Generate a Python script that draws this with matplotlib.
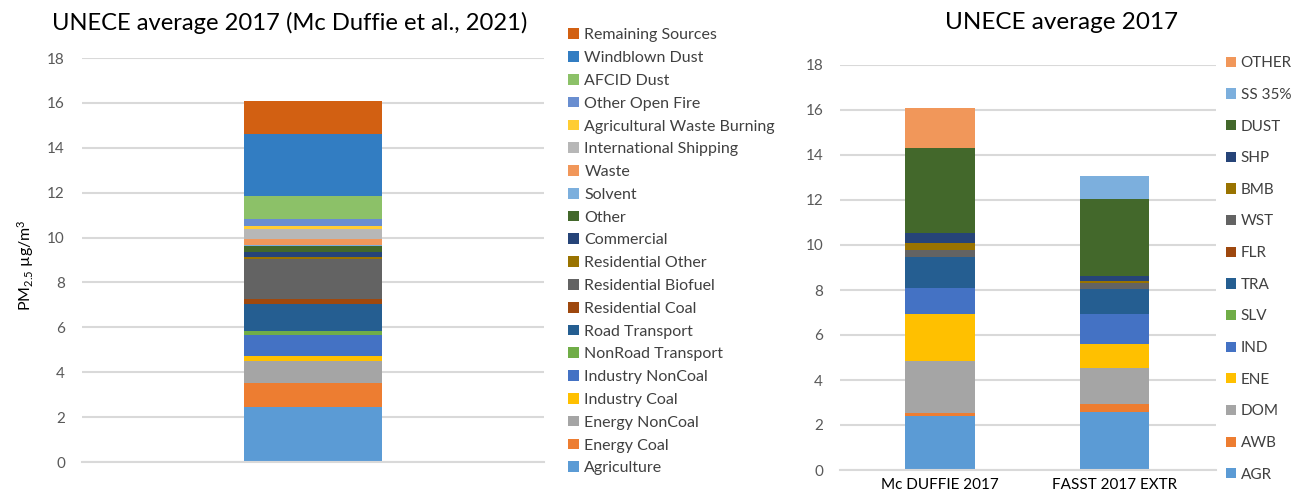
import numpy as np
import matplotlib.pyplot as plt

plt.rcParams['font.family'] = ['Lato', 'DejaVu Sans']
plt.rcParams['mathtext.fontset'] = 'custom'
plt.rcParams['mathtext.rm'] = 'Lato'
plt.rcParams['mathtext.it'] = 'Lato'

# left chart: Mc Duffie et al. 2021 source sectors (bottom to top)
mcd_sectors = ['Agriculture', 'Energy Coal', 'Energy NonCoal', 'Industry Coal',
               'Industry NonCoal', 'NonRoad Transport', 'Road Transport',
               'Residential Coal', 'Residential Biofuel', 'Residential Other',
               'Commercial', 'Other', 'Solvent', 'Waste', 'International Shipping',
               'Agricultural Waste Burning', 'Other Open Fire', 'AFCID Dust',
               'Windblown Dust', 'Remaining Sources']
mcd_values = [2.45, 1.05, 1.0, 0.21, 0.95, 0.16, 1.2, 0.24, 1.78, 0.09,
              0.21, 0.29, 0.02, 0.28, 0.45, 0.12, 0.33, 1.04, 2.76, 1.44]
mcd_colors = ['#5B9BD5', '#ED7D31', '#A5A5A5', '#FFC000', '#4472C4', '#70AD47',
              '#255E91', '#9E480E', '#636363', '#997300', '#264478', '#43682B',
              '#7CAFDD', '#F1975A', '#B7B7B7', '#FFCD33', '#698ED0', '#8CC168',
              '#327DC2', '#D26012']

# right chart: FASST sectors
fasst_sectors = ['AGR', 'AWB', 'DOM', 'ENE', 'IND', 'SLV', 'TRA', 'FLR', 'WST',
                 'BMB', 'SHP', 'DUST', 'SS 35%', 'OTHER']
bars = ['Mc DUFFIE 2017', 'FASST 2017 EXTR']
mcd_2017 = [2.41, 0.11, 2.32, 2.09, 1.17, 0.0, 1.37, 0.0, 0.32, 0.3, 0.44, 3.79, 0.0, 1.75]
fasst_2017 = [2.58, 0.34, 1.63, 1.07, 1.31, 0.0, 1.1, 0.0, 0.27, 0.09, 0.22, 3.45, 1.01, 0.0]
fasst_colors = ['#5B9BD5', '#ED7D31', '#A5A5A5', '#FFC000', '#4472C4', '#70AD47',
                '#255E91', '#9E480E', '#636363', '#997300', '#264478', '#43682B',
                '#7CAFDD', '#F1975A']

grid_col = '#D9D9D9'
tick_col = '#595959'


def style(ax):
    ax.set_ylim(0, 18)
    ax.set_yticks(np.arange(0, 19, 2))
    ax.yaxis.grid(True, color=grid_col, linewidth=1.5)
    ax.set_axisbelow(True)
    for s in ['top', 'right', 'left']:
        ax.spines[s].set_visible(False)
    ax.spines['bottom'].set_color(grid_col)
    ax.spines['bottom'].set_linewidth(1.5)
    ax.tick_params(axis='both', length=0, labelsize=11, colors=tick_col, pad=12)


fig = plt.figure(figsize=(12.96, 5.0), dpi=100)

# left
ax1 = fig.add_axes([0.063, 0.076, 0.357, 0.808])
bottom = 0.0
handles = []
for name, val, col in zip(mcd_sectors, mcd_values, mcd_colors):
    h = ax1.bar(0, val, 0.3, bottom=bottom, color=col, label=name)
    handles.append(h)
    bottom += val
ax1.set_xlim(-0.5, 0.5)
ax1.set_xticks([])
style(ax1)
fig.text(0.04, 0.955, 'UNECE average 2017 (Mc Duffie et al., 2021)', fontsize=17.1,
         va='center', ha='left')
fig.text(0.02, 0.47, r'PM$_{2.5}$ µg/m$^3$', rotation=90, fontsize=11.5,
         va='center', ha='center')
fig.legend(handles[::-1], mcd_sectors[::-1], loc='upper left',
           bbox_to_anchor=(0.4275, 0.972), frameon=False, fontsize=11.5,
           handlelength=0.65, handleheight=0.65, handletextpad=0.35,
           labelspacing=0.55, labelcolor='#404040')

# right
ax2 = fig.add_axes([0.648, 0.06, 0.29, 0.81])
x = np.arange(len(bars))
bot = np.zeros(len(bars))
handles2 = []
for i, (name, col) in enumerate(zip(fasst_sectors, fasst_colors)):
    vals = np.array([mcd_2017[i], fasst_2017[i]])
    h = ax2.bar(x, vals, 0.4, bottom=bot, color=col, label=name)
    handles2.append(h)
    bot += vals
ax2.set_xlim(-0.575, 1.58)
ax2.set_xticks(x)
ax2.set_xticklabels(bars)
style(ax2)
ax2.tick_params(axis='x', colors='#000000', pad=6)
fig.text(0.819, 0.955, 'UNECE average 2017', fontsize=17.5, va='center', ha='center')
fig.legend(handles2[::-1], fasst_sectors[::-1], loc='upper left',
           bbox_to_anchor=(0.9355, 0.915), frameon=False, fontsize=11,
           handlelength=0.65, handleheight=0.65, handletextpad=0.3,
           labelspacing=1.155, labelcolor='#404040')

fig.savefig('out.png', dpi=100)
